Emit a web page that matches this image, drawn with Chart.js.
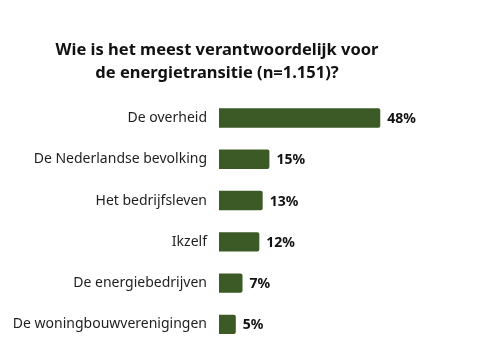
<!DOCTYPE html>
<html>
<head>
<meta charset="utf-8">
<script src="https://cdn.jsdelivr.net/npm/chart.js@4/dist/chart.umd.min.js"></script>
<style>
  html, body { margin: 0; padding: 0; background: #fff; }
  #wrap { width: 478px; height: 360px; }
</style>
</head>
<body>
<div id="wrap"><canvas id="c" width="478" height="360"></canvas></div>
<script>
const categories = [
  "De overheid",
  "De Nederlandse bevolking",
  "Het bedrijfsleven",
  "Ikzelf",
  "De energiebedrijven",
  "De woningbouwverenigingen"
];
const values = [48, 15, 13, 12, 7, 5];
const titleLines = ["Wie is het meest verantwoordelijk voor", "de energietransitie (n=1.151)?"];

const FONT = "'Noto Sans', 'Open Sans', sans-serif";

const valueLabels = {
  id: 'valueLabels',
  afterDatasetsDraw(chart) {
    const ctx = chart.ctx;
    const meta = chart.getDatasetMeta(0);
    ctx.save();
    ctx.font = "bold 14px " + FONT;
    ctx.fillStyle = "#111";
    ctx.textAlign = "left";
    ctx.textBaseline = "middle";
    meta.data.forEach((bar, i) => {
      ctx.fillText(values[i] + "%", bar.x + 7, bar.y + 1);
    });
    ctx.restore();
  }
};

new Chart(document.getElementById('c'), {
  type: 'bar',
  data: {
    labels: categories,
    datasets: [{
      data: values,
      backgroundColor: '#3c5a26',
      borderRadius: 2,
      borderSkipped: 'start',
      barPercentage: 0.94,
      categoryPercentage: 0.5
    }]
  },
  options: {
    indexAxis: 'y',
    responsive: false,
    animation: false,
    layout: { padding: { top: 30, right: 44, bottom: 15, left: 0 } },
    plugins: {
      legend: { display: false },
      tooltip: { enabled: false },
      title: {
        display: true,
        text: titleLines,
        color: '#111',
        font: { family: FONT, size: 16.5, weight: 'bold', lineHeight: 1.36 },
        padding: { top: 9.5, bottom: 13 }
      }
    },
    scales: {
      x: {
        display: false,
        min: 0,
        max: 64
      },
      y: {
        afterFit(scale) {
          scale.width = 219;
          scale.paddingTop = 0;
          scale.paddingBottom = 0;
        },
        grid: { display: false, drawTicks: false },
        border: { display: false },
        ticks: {
          color: '#1e1e1e',
          padding: 12,
          font: { family: FONT, size: 14 }
        }
      }
    }
  },
  plugins: [valueLabels]
});
</script>
</body>
</html>
